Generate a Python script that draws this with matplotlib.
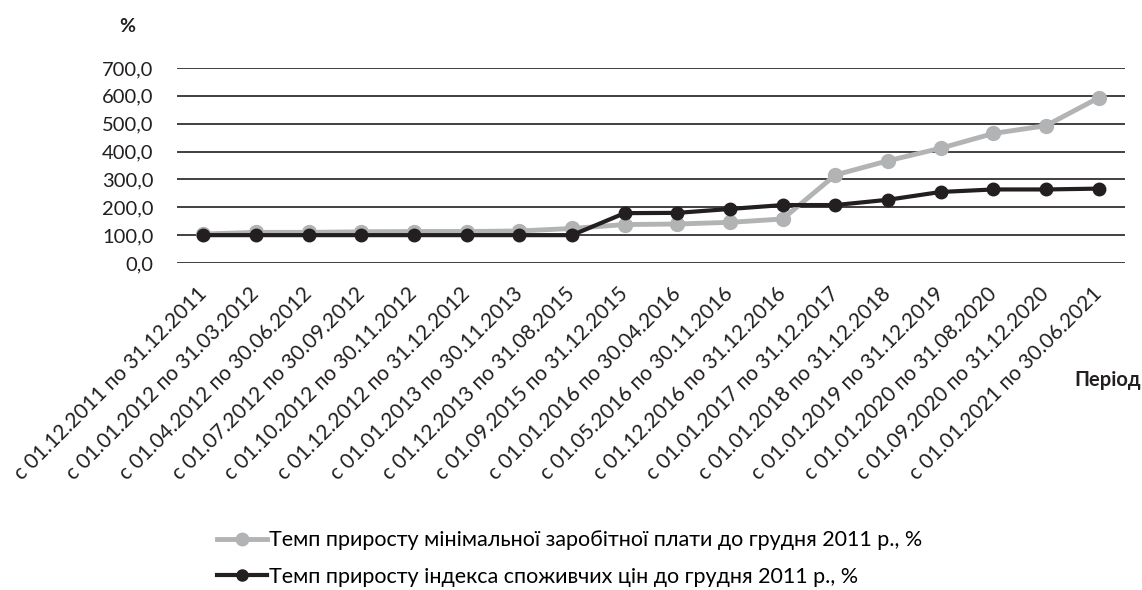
import matplotlib
matplotlib.use("Agg")
import matplotlib.pyplot as plt
from matplotlib.lines import Line2D

categories = [
    "с 01.12.2011 по 31.12.2011", "с 01.01.2012 по 31.03.2012", "с 01.04.2012 по 30.06.2012",
    "с 01.07.2012 по 30.09.2012", "с 01.10.2012 по 30.11.2012", "с 01.12.2012 по 31.12.2012",
    "с 01.01.2013 по 30.11.2013", "с 01.12.2013 по 31.08.2015", "с 01.09.2015 по 31.12.2015",
    "с 01.01.2016 по 30.04.2016", "с 01.05.2016 по 30.11.2016", "с 01.12.2016 по 31.12.2016",
    "с 01.01.2017 по 31.12.2017", "с 01.01.2018 по 31.12.2018", "с 01.01.2019 по 31.12.2019",
    "с 01.01.2020 по 31.08.2020", "с 01.09.2020 по 31.12.2020", "с 01.01.2021 по 30.06.2021",
]
wage = [104, 110, 110, 112, 113, 113, 115, 124, 138, 140, 146, 158, 316, 367, 412, 465, 493, 593]
cpi = [100, 100, 100, 100, 100, 100, 100, 100, 179, 180, 194, 208, 208, 227, 255, 264, 264, 267]
yticks = [0, 100, 200, 300, 400, 500, 600, 700]
ytick_labels = ["0,0", "100,0", "200,0", "300,0", "400,0", "500,0", "600,0", "700,0"]
legend_labels = ["Темп приросту мінімальної заробітної плати до грудня 2011 р., %",
                 "Темп приросту індекса споживчих цін до грудня 2011 р., %"]

plt.rcParams['font.family'] = ['Lato', 'DejaVu Sans']
fig = plt.figure(figsize=(11.42, 5.9), dpi=100)
ax = fig.add_axes([177/1142, 1-263/590, (1125-177)/1142, 195/590])

x = list(range(len(categories)))
ax.plot(x, wage, color='#b2b3b5', lw=3.5, marker='o', ms=10, zorder=3)
ax.plot(x, cpi, color='#231f20', lw=3, marker='o', ms=9, zorder=4)

ax.set_ylim(0, 700)
ax.set_xlim(-0.5, len(categories) - 0.5)
ax.set_yticks(yticks)
ax.set_yticklabels(ytick_labels, fontsize=14.5, color='#231f20')
ax.yaxis.grid(True, color='#231f20', lw=1.2)
ax.set_axisbelow(True)
for s in ax.spines.values():
    s.set_visible(False)
ax.tick_params(axis='y', length=0, pad=17)
ax.tick_params(axis='x', length=0, pad=20)
ax.set_xticks(x)
ax.set_xticklabels(categories, rotation=45, ha='right', va='center', rotation_mode='anchor',
                   fontsize=15, color='#231f20')

fig.text(127/1142, 1-27/590, "%", fontsize=14, fontweight='bold', color='#231f20', ha='center', va='center')
fig.text(1141/1142, 1-380/590, "Період", fontsize=14.5, fontweight='bold', color='#231f20', ha='right', va='center')

handles = [Line2D([0], [0], color='#b2b3b5', lw=3.5, marker='o', ms=9),
           Line2D([0], [0], color='#231f20', lw=3, marker='o', ms=8)]
fig.legend(handles, legend_labels, loc='upper left', bbox_to_anchor=(198/1142, 1-511/590), frameon=False,
           handlelength=2.3, handletextpad=0.1, labelspacing=0.75, prop={'size': 15.5})

fig.savefig("out.png", dpi=100)
